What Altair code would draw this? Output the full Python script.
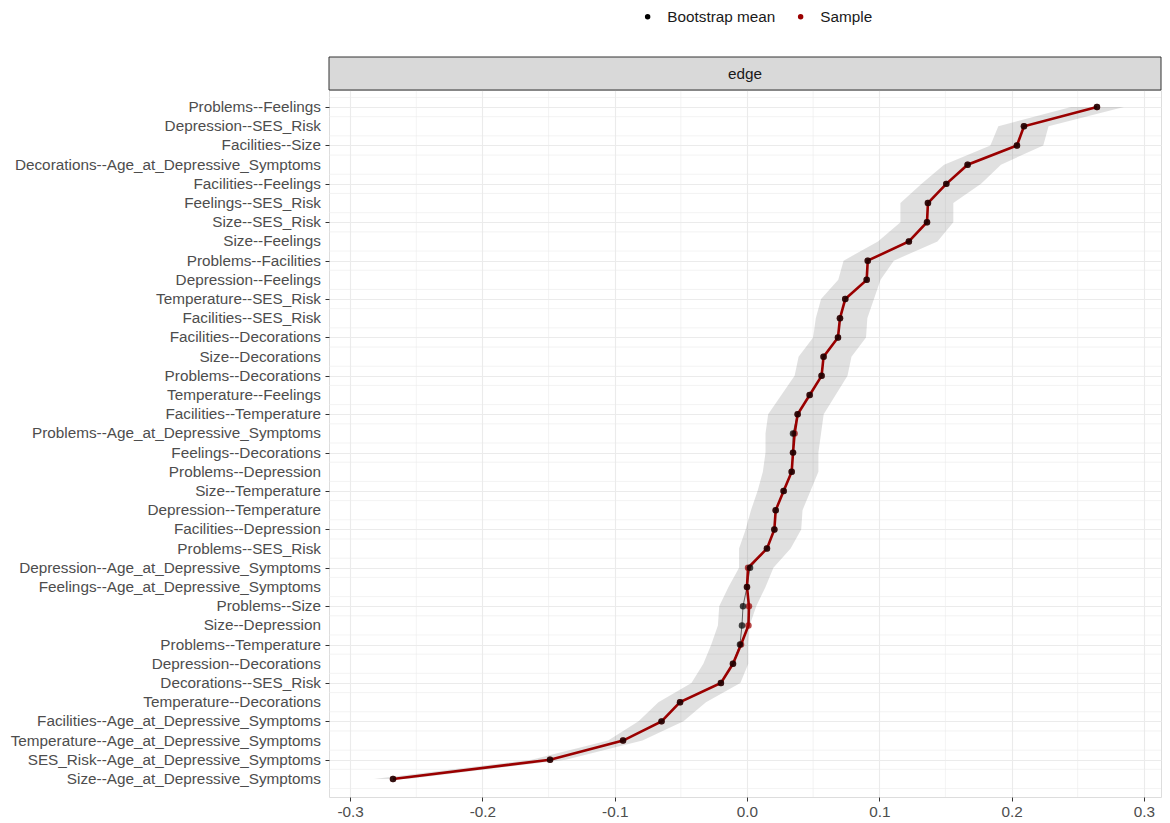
import altair as alt
import pandas as pd

edges = [
    "Problems--Feelings", "Depression--SES_Risk", "Facilities--Size",
    "Decorations--Age_at_Depressive_Symptoms", "Facilities--Feelings",
    "Feelings--SES_Risk", "Size--SES_Risk", "Size--Feelings",
    "Problems--Facilities", "Depression--Feelings", "Temperature--SES_Risk",
    "Facilities--SES_Risk", "Facilities--Decorations", "Size--Decorations",
    "Problems--Decorations", "Temperature--Feelings", "Facilities--Temperature",
    "Problems--Age_at_Depressive_Symptoms", "Feelings--Decorations",
    "Problems--Depression", "Size--Temperature", "Depression--Temperature",
    "Facilities--Depression", "Problems--SES_Risk",
    "Depression--Age_at_Depressive_Symptoms", "Feelings--Age_at_Depressive_Symptoms",
    "Problems--Size", "Size--Depression", "Problems--Temperature",
    "Depression--Decorations", "Decorations--SES_Risk", "Temperature--Decorations",
    "Facilities--Age_at_Depressive_Symptoms", "Temperature--Age_at_Depressive_Symptoms",
    "SES_Risk--Age_at_Depressive_Symptoms", "Size--Age_at_Depressive_Symptoms",
]

sample = [0.2646, 0.2094, 0.2041, 0.1668, 0.1507, 0.1368, 0.1361, 0.1224,
          0.0913, 0.0905, 0.0743, 0.0703, 0.0688, 0.0579, 0.0564, 0.0474,
          0.0383, 0.0360, 0.0348, 0.0338, 0.0277, 0.0217, 0.0207, 0.0151,
          0.0008, 0.0000, 0.0015, 0.0011, -0.0045, -0.0106, -0.0197, -0.0506,
          -0.0646, -0.0937, -0.1489, -0.2676]

boot_mean = [0.2646, 0.2094, 0.2041, 0.1668, 0.1507, 0.1368, 0.1361, 0.1224,
             0.0913, 0.0905, 0.0743, 0.0703, 0.0688, 0.0579, 0.0564, 0.0474,
             0.0383, 0.0348, 0.0348, 0.0338, 0.0277, 0.0217, 0.0207, 0.0151,
             0.0023, 0.0000, -0.0030, -0.0038, -0.0053, -0.0106, -0.0197, -0.0506,
             -0.0646, -0.0937, -0.1489, -0.2676]

ci_lower = [0.245, 0.190, 0.184, 0.149, 0.132, 0.116, 0.116, 0.099,
            0.073, 0.069, 0.056, 0.052, 0.050, 0.039, 0.036, 0.026,
            0.016, 0.014, 0.014, 0.012, 0.008, 0.003, -0.001, -0.006,
            -0.006, -0.014, -0.021, -0.022, -0.027, -0.033, -0.042, -0.067,
            -0.082, -0.105, -0.163, -0.282]

ci_upper = [0.285, 0.228, 0.224, 0.192, 0.177, 0.156, 0.156, 0.144,
            0.111, 0.101, 0.096, 0.091, 0.090, 0.079, 0.076, 0.067,
            0.058, 0.056, 0.054, 0.054, 0.048, 0.042, 0.041, 0.033,
            0.020, 0.014, 0.007, 0.002, 0.001, 0.001, -0.005, -0.031,
            -0.048, -0.079, -0.137, -0.256]

x_major = [-0.3, -0.2, -0.1, 0.0, 0.1, 0.2, 0.3]
x_minor = [-0.25, -0.15, -0.05, 0.05, 0.15, 0.25]

n = len(edges)
idx = list(range(1, n + 1))
y_minor = [i + 0.5 for i in range(0, n + 1)]

df = pd.DataFrame({"edge": edges, "idx": idx, "sample": sample,
                   "boot": boot_mean, "lo": ci_lower, "hi": ci_upper})
long = pd.concat([
    pd.DataFrame({"idx": idx, "value": boot_mean, "type": "Bootstrap mean"}),
    pd.DataFrame({"idx": idx, "value": sample, "type": "Sample"}),
])

W, H = 832, 707
FONT = "Liberation Sans"
GRID = "#ebebeb"
RED = "#9a0000"
FS = 15.3

xscale = alt.Scale(domain=[-0.316, 0.313], nice=False, zero=False)
yscale = alt.Scale(domain=[0.11, 36.94], reverse=True, nice=False, zero=False)

base = alt.Chart(df)

yaxis = alt.Axis(values=idx, labels=False,
                 title=None, grid=True, gridColor=GRID, gridWidth=1.1,
                 tickColor="#333333", tickSize=4, domain=False)
xaxis = alt.Axis(values=x_major,
                 labelExpr="replace(format(datum.value, '.1f'), '\u2212', '-')",
                 title=None, grid=True,
                 gridColor=GRID, gridWidth=1.1, labelFontSize=FS,
                 labelColor="#4d4d4d", labelFont=FONT, tickColor="#333333",
                 tickSize=4, labelPadding=3, domain=False, labelFlush=False,
                 labelOverlap=False)

grid_anchor = base.mark_point(opacity=0).encode(
    x=alt.X("sample:Q", scale=xscale, axis=xaxis),
    y=alt.Y("idx:Q", scale=yscale, axis=yaxis),
)

ylabels = base.mark_text(align="right", baseline="middle", fontSize=FS, font=FONT,
                         color="#4d4d4d").encode(
    x=alt.value(-8),
    y=alt.Y("idx:Q", scale=yscale),
    text="edge:N",
)

xminor_rules = alt.Chart(pd.DataFrame({"v": x_minor})).mark_rule(
    color=GRID, strokeWidth=0.6).encode(x=alt.X("v:Q", scale=xscale))
yminor_rules = alt.Chart(pd.DataFrame({"v": y_minor})).mark_rule(
    color=GRID, strokeWidth=0.6).encode(y=alt.Y("v:Q", scale=yscale))

ribbon = base.mark_area(orient="horizontal", color="#000000", opacity=0.12).encode(
    y=alt.Y("idx:Q", scale=yscale),
    x=alt.X("lo:Q", scale=xscale),
    x2=alt.X2("hi:Q"),
)

color = alt.Color("type:N",
                  scale=alt.Scale(domain=["Bootstrap mean", "Sample"],
                                  range=["#000000", RED]),
                  legend=alt.Legend(title=None, orient="none", direction="horizontal",
                                    legendX=311, legendY=-81, symbolType="circle",
                                    symbolSize=30, labelFontSize=FS, labelFont=FONT,
                                    labelColor="#1a1a1a", labelOffset=12,
                                    columnPadding=17, symbolStrokeWidth=0,
                                    symbolOpacity=1))

boot_line = base.mark_line(color="#000000", strokeWidth=0.8, opacity=0.7).encode(
    x=alt.X("boot:Q", scale=xscale),
    y=alt.Y("idx:Q", scale=yscale), order="idx:Q")
sample_line = base.mark_line(color=RED, strokeWidth=2.6).encode(
    x=alt.X("sample:Q", scale=xscale),
    y=alt.Y("idx:Q", scale=yscale), order="idx:Q")

points = alt.Chart(long).mark_circle(size=42, opacity=0.72).encode(
    x=alt.X("value:Q", scale=xscale),
    y=alt.Y("idx:Q", scale=yscale),
    color=color,
    order=alt.Order("type:N", sort="descending"),
)

strip_df = pd.DataFrame({"label": ["edge"]})
strip = alt.Chart(strip_df).mark_rect(fill="#d9d9d9", stroke="#333333",
                                       strokeWidth=1).encode(
    x=alt.value(0), x2=alt.value(W), y=alt.value(-33), y2=alt.value(0))
strip_text = alt.Chart(strip_df).mark_text(fontSize=FS, font=FONT,
                                           color="#1a1a1a").encode(
    x=alt.value(W / 2), y=alt.value(-16), text="label:N")

chart = alt.layer(
    grid_anchor, xminor_rules, yminor_rules, ribbon, boot_line, sample_line, points,
    ylabels, strip, strip_text
).properties(
    width=W, height=H, padding={"left": 2, "top": 1, "right": 0, "bottom": 0}
).configure_view(
    stroke="#333333", strokeWidth=1.2
).configure(background="white")

chart.save("out.html", embed_options={"renderer": "svg", "actions": False})
